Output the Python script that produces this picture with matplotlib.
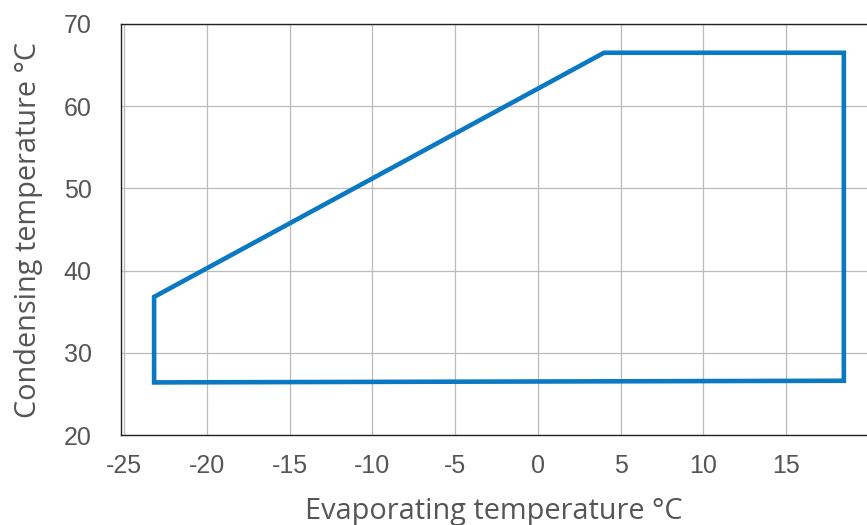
import matplotlib
matplotlib.use("Agg")
import matplotlib.pyplot as plt

plt.rcParams["axes.unicode_minus"] = False

# Operating envelope (evaporating vs condensing temperature)
evap = [-23.2, 4.0, 18.5, 18.5, -23.2]
cond = [36.8, 66.5, 66.5, 26.6, 26.4]

xticks = [-25, -20, -15, -10, -5, 0, 5, 10, 15]
yticks = [20, 30, 40, 50, 60, 70]

line_color = "#0a78c2"
text_color = "#555555"

fig = plt.figure(figsize=(8.67, 5.25), dpi=100)
ax = fig.add_axes([0.1396, 0.1714, 0.8604, 0.7829])

ax.fill(evap, cond, fill=False, edgecolor=line_color, lw=3.3,
        joinstyle="miter", zorder=3)

ax.set_xlim(-25.2, 19.9)
ax.set_ylim(20, 70)
ax.set_xticks(xticks)
ax.set_yticks(yticks)
ax.grid(True, color="#bbbbbb", lw=0.9)
ax.set_axisbelow(True)

for side in ["left", "bottom", "top"]:
    ax.spines[side].set_color("#222222")
    ax.spines[side].set_linewidth(1.0)
ax.spines["right"].set_visible(False)

ax.tick_params(axis="both", length=0, labelsize=18, labelcolor=text_color,
               labelfontfamily="Liberation Sans")
ax.tick_params(axis="y", pad=21)
ax.tick_params(axis="x", pad=14)

ax.set_xlabel("Evaporating temperature °C", fontsize=20.8, color=text_color,
              family="Open Sans", labelpad=13)
ax.set_ylabel("Condensing temperature °C", fontsize=20.8, color=text_color,
              family="Open Sans", labelpad=15)

fig.savefig("out.png", dpi=100)
